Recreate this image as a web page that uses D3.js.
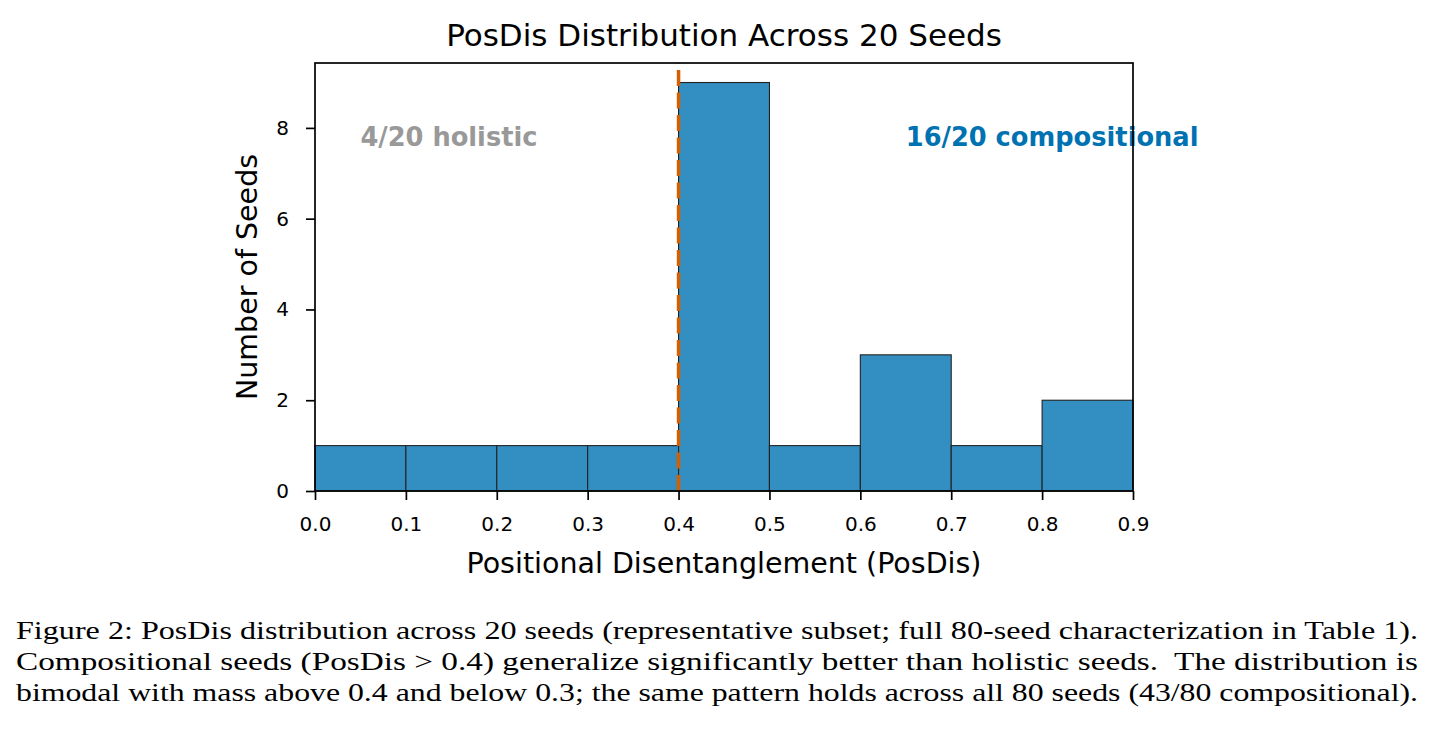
<!DOCTYPE html>
<html>
<head>
<meta charset="utf-8">
<script src="https://cdn.jsdelivr.net/npm/d3@7"></script>
<style>
  body { margin: 0; background: #fff; }
  svg { display: block; }
  .axis text { font-family: "DejaVu Sans", sans-serif; font-size: 20px; fill: #000; }
  .axis path, .axis line { stroke: #000; stroke-width: 1.7; }
</style>
</head>
<body>
<svg width="1434" height="736"></svg>
<script>
// histogram bins (left edge, right edge) and counts
var binEdges = [0.0, 0.1, 0.2, 0.3, 0.4, 0.5, 0.6, 0.7, 0.8, 0.9];
var counts = [1, 1, 1, 1, 9, 1, 3, 1, 2];
var xTicks = [0.0, 0.1, 0.2, 0.3, 0.4, 0.5, 0.6, 0.7, 0.8, 0.9];
var yTicks = [0, 2, 4, 6, 8];
var threshold = 0.4;
var annotations = [
  {x: 0.05, y: 7.8, text: "4/20 holistic", color: "#999999"},
  {x: 0.65, y: 7.8, text: "16/20 compositional", color: "#0072B2"}
];
var captionLines = [
  "Figure 2: PosDis distribution across 20 seeds (representative subset; full 80-seed characterization in Table 1).",
  "Compositional seeds (PosDis > 0.4) generalize significantly better than holistic seeds.  The distribution is",
  "bimodal with mass above 0.4 and below 0.3; the same pattern holds across all 80 seeds (43/80 compositional)."
];

var svg = d3.select("svg");
var margin = {top: 63, left: 315, right: 301, bottom: 245};
var width = 1434 - margin.left - margin.right,
    height = 736 - margin.top - margin.bottom;

var x = d3.scaleLinear().domain([0, 0.9]).range([0, width]);
var y = d3.scaleLinear().domain([0, 9.43]).range([height, 0]);

var bins = counts.map(function(c, i) { return {x0: binEdges[i], x1: binEdges[i + 1], n: c}; });

var g = svg.append("g")
    .attr("transform", "translate(" + margin.left + "," + margin.top + ")");

g.selectAll("rect.bar")
    .data(bins)
  .enter().append("rect")
    .attr("class", "bar")
    .attr("x", function(d) { return x(d.x0); })
    .attr("y", function(d) { return y(d.n); })
    .attr("width", function(d) { return x(d.x1) - x(d.x0); })
    .attr("height", function(d) { return y(0) - y(d.n); })
    .attr("fill", "#338EC1")
    .attr("stroke", "#222")
    .attr("stroke-width", 1.1);

// threshold line, dashes start from the bottom
g.append("line")
    .attr("x1", x(threshold)).attr("x2", x(threshold))
    .attr("y1", y(0)).attr("y2", 0)
    .style("stroke", "#D55E00")
    .style("stroke-width", "3.5px")
    .style("stroke-dasharray", "16 6.5");

g.selectAll("text.note")
    .data(annotations)
  .enter().append("text")
    .attr("class", "note")
    .attr("x", function(d) { return x(d.x); })
    .attr("y", function(d) { return y(d.y); })
    .attr("dy", "0.35em")
    .attr("fill", function(d) { return d.color; })
    .style("font-family", "'DejaVu Sans', sans-serif")
    .style("font-weight", "bold")
    .style("font-size", "25.7px")
    .text(function(d) { return d.text; });

g.append("g")
    .attr("class", "axis")
    .attr("transform", "translate(0," + height + ")")
    .call(d3.axisBottom(x).tickValues(xTicks).tickFormat(d3.format(".1f")).tickSize(9).tickPadding(17));

g.append("g")
    .attr("class", "axis")
    .call(d3.axisLeft(y).tickValues(yTicks).tickSize(9).tickPadding(17));

g.selectAll(".axis .domain").remove();

// frame
g.append("rect")
    .attr("width", width)
    .attr("height", height)
    .attr("fill", "none")
    .attr("stroke", "#000")
    .attr("stroke-width", 1.7);

svg.append("text")
    .attr("x", margin.left + width / 2)
    .attr("y", 46)
    .attr("text-anchor", "middle")
    .style("font-family", "'DejaVu Sans', sans-serif")
    .style("font-size", "31px")
    .text("PosDis Distribution Across 20 Seeds");

svg.append("text")
    .attr("x", margin.left + width / 2)
    .attr("y", 573)
    .attr("text-anchor", "middle")
    .style("font-family", "'DejaVu Sans', sans-serif")
    .style("font-size", "28.5px")
    .text("Positional Disentanglement (PosDis)");

svg.append("text")
    .attr("transform", "translate(257," + (margin.top + height / 2) + ") rotate(-90)")
    .attr("text-anchor", "middle")
    .style("font-family", "'DejaVu Sans', sans-serif")
    .style("font-size", "28.5px")
    .text("Number of Seeds");

svg.selectAll("text.caption")
    .data(captionLines)
  .enter().append("text")
    .attr("class", "caption")
    .attr("x", 16)
    .attr("y", function(d, i) { return 639 + i * 31; })
    .attr("textLength", 1402)
    .attr("lengthAdjust", "spacingAndGlyphs")
    .style("font-family", "'Liberation Serif', serif")
    .style("font-size", "26px")
    .style("white-space", "pre")
    .text(function(d) { return d; });
</script>
</body>
</html>
